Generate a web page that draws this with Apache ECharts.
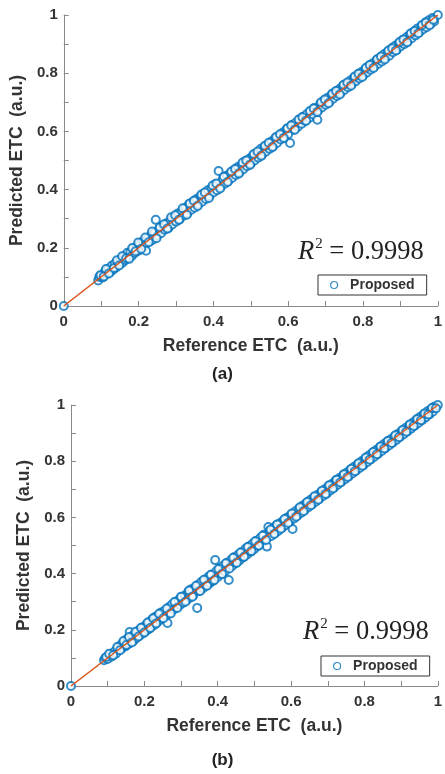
<!DOCTYPE html>
<html><head><meta charset="utf-8">
<script src="https://cdn.jsdelivr.net/npm/echarts@6/dist/echarts.min.js"></script>
<style>html,body{margin:0;padding:0;background:#fff}#c{width:445px;height:774px}</style>
</head><body><div id="c"></div>
<script>
const xTicks = ['0','0.2','0.4','0.6','0.8','1'];
const fitLine = [[0,0],[1,1]];
const refA = [0,0.092,0.095,0.1,0.104,0.11,0.115,0.12,0.125,0.128,0.132,0.136,0.14,0.145,0.15,0.152,0.158,0.162,0.165,0.17,0.172,0.178,0.182,0.186,0.19,0.195,0.2,0.204,0.208,0.212,0.216,0.22,0.225,0.23,0.234,0.238,0.243,0.246,0.25,0.255,0.26,0.265,0.27,0.275,0.28,0.285,0.29,0.295,0.3,0.305,0.31,0.315,0.32,0.326,0.33,0.335,0.34,0.345,0.35,0.355,0.36,0.366,0.37,0.375,0.38,0.385,0.39,0.395,0.4,0.405,0.41,0.414,0.42,0.425,0.43,0.436,0.44,0.445,0.45,0.456,0.46,0.466,0.47,0.476,0.48,0.486,0.49,0.496,0.5,0.506,0.51,0.516,0.52,0.527,0.53,0.536,0.54,0.546,0.55,0.556,0.56,0.566,0.57,0.577,0.58,0.586,0.59,0.596,0.6,0.605,0.61,0.616,0.62,0.626,0.63,0.636,0.64,0.646,0.65,0.656,0.66,0.667,0.67,0.678,0.68,0.686,0.69,0.696,0.7,0.706,0.71,0.717,0.72,0.726,0.73,0.737,0.74,0.746,0.75,0.756,0.76,0.767,0.77,0.776,0.78,0.787,0.79,0.796,0.8,0.806,0.81,0.817,0.82,0.826,0.83,0.837,0.84,0.846,0.85,0.857,0.86,0.866,0.87,0.877,0.88,0.886,0.89,0.896,0.9,0.906,0.91,0.917,0.92,0.926,0.93,0.937,0.94,0.946,0.95,0.956,0.96,0.967,0.97,0.976,0.98,0.986,0.99,1];
const predA = [0,0.088,0.1,0.105,0.098,0.118,0.11,0.128,0.118,0.138,0.125,0.145,0.132,0.152,0.143,0.16,0.15,0.172,0.158,0.183,0.165,0.185,0.172,0.196,0.182,0.205,0.19,0.214,0.2,0.222,0.206,0.19,0.232,0.222,0.245,0.228,0.252,0.296,0.242,0.266,0.25,0.275,0.262,0.284,0.268,0.294,0.28,0.305,0.29,0.318,0.298,0.325,0.31,0.338,0.318,0.35,0.33,0.356,0.338,0.368,0.35,0.378,0.358,0.386,0.368,0.398,0.378,0.405,0.39,0.418,0.398,0.464,0.41,0.436,0.42,0.448,0.43,0.456,0.44,0.468,0.45,0.478,0.46,0.486,0.47,0.498,0.48,0.506,0.49,0.518,0.5,0.526,0.51,0.54,0.52,0.546,0.53,0.556,0.54,0.566,0.55,0.578,0.56,0.586,0.572,0.596,0.58,0.608,0.59,0.56,0.622,0.606,0.63,0.616,0.64,0.626,0.65,0.636,0.66,0.646,0.668,0.658,0.68,0.64,0.672,0.696,0.682,0.706,0.692,0.716,0.7,0.728,0.712,0.736,0.722,0.746,0.732,0.756,0.742,0.764,0.752,0.776,0.762,0.784,0.772,0.796,0.782,0.804,0.792,0.814,0.802,0.826,0.812,0.834,0.822,0.846,0.832,0.854,0.84,0.866,0.852,0.874,0.86,0.886,0.872,0.894,0.88,0.904,0.892,0.914,0.9,0.924,0.91,0.934,0.92,0.944,0.93,0.954,0.94,0.962,0.95,0.974,0.958,0.982,0.968,0.99,0.978,1];
const refA2 = [0.098,0.107,0.113,0.121,0.134,0.142,0.148,0.156,0.167,0.175,0.183,0.192,0.199,0.207,0.218,0.227,0.236,0.248,0.257,0.268,0.277,0.287,0.298,0.308,0.318,0.329,0.337,0.348,0.358,0.368,0.377,0.388,0.398,0.408,0.418,0.428,0.438,0.448,0.458,0.468,0.478,0.488,0.498,0.508,0.518,0.528,0.538,0.548,0.558,0.568,0.578,0.588,0.598,0.608,0.618,0.628,0.638,0.648,0.658,0.668,0.678,0.688,0.698,0.708,0.718,0.728,0.738,0.748,0.758,0.768,0.778,0.788,0.798,0.808,0.818,0.828,0.838,0.848,0.858,0.868,0.878,0.888,0.898,0.908,0.918,0.928,0.938,0.948,0.958,0.968,0.978,0.988];
const predA2 = [0.106,0.101,0.127,0.112,0.131,0.157,0.139,0.171,0.164,0.162,0.199,0.188,0.218,0.196,0.235,0.219,0.256,0.233,0.271,0.281,0.266,0.305,0.312,0.296,0.336,0.314,0.352,0.362,0.344,0.383,0.39,0.371,0.414,0.421,0.404,0.444,0.426,0.462,0.471,0.455,0.493,0.5,0.485,0.522,0.531,0.516,0.551,0.561,0.546,0.581,0.59,0.577,0.611,0.62,0.606,0.641,0.649,0.637,0.67,0.679,0.667,0.7,0.71,0.697,0.729,0.739,0.727,0.76,0.768,0.757,0.789,0.798,0.787,0.819,0.828,0.818,0.848,0.857,0.847,0.878,0.886,0.878,0.907,0.916,0.906,0.937,0.945,0.937,0.966,0.974,0.965,0.984];
const refB = [0,0.09,0.094,0.1,0.105,0.11,0.118,0.123,0.128,0.132,0.137,0.14,0.145,0.149,0.153,0.157,0.16,0.163,0.167,0.17,0.174,0.178,0.182,0.186,0.19,0.194,0.198,0.202,0.206,0.21,0.214,0.218,0.222,0.226,0.23,0.234,0.238,0.242,0.246,0.25,0.255,0.259,0.263,0.267,0.27,0.275,0.28,0.284,0.288,0.293,0.297,0.302,0.306,0.31,0.315,0.32,0.324,0.328,0.333,0.338,0.344,0.347,0.35,0.355,0.36,0.365,0.37,0.374,0.378,0.383,0.387,0.393,0.396,0.4,0.405,0.41,0.415,0.42,0.425,0.43,0.436,0.44,0.445,0.45,0.455,0.46,0.465,0.47,0.476,0.48,0.485,0.49,0.495,0.5,0.505,0.51,0.515,0.52,0.526,0.53,0.534,0.538,0.542,0.546,0.552,0.556,0.56,0.565,0.57,0.575,0.58,0.585,0.59,0.596,0.6,0.604,0.608,0.612,0.617,0.622,0.627,0.632,0.637,0.642,0.647,0.652,0.657,0.662,0.667,0.672,0.677,0.682,0.687,0.692,0.697,0.702,0.707,0.712,0.717,0.722,0.727,0.732,0.737,0.742,0.747,0.752,0.757,0.762,0.767,0.772,0.777,0.782,0.787,0.792,0.797,0.802,0.807,0.812,0.817,0.822,0.827,0.832,0.837,0.842,0.847,0.852,0.857,0.862,0.867,0.872,0.877,0.882,0.887,0.892,0.897,0.902,0.907,0.912,0.917,0.922,0.927,0.932,0.937,0.942,0.947,0.952,0.957,0.962,0.967,0.972,0.977,0.982,0.986,0.99,1];
const predB = [0,0.092,0.1,0.096,0.112,0.104,0.122,0.116,0.136,0.128,0.148,0.135,0.158,0.142,0.168,0.15,0.192,0.158,0.178,0.16,0.186,0.17,0.195,0.178,0.204,0.186,0.21,0.194,0.22,0.2,0.228,0.21,0.238,0.216,0.246,0.226,0.25,0.234,0.262,0.24,0.268,0.25,0.224,0.28,0.26,0.29,0.272,0.298,0.28,0.306,0.288,0.316,0.296,0.322,0.305,0.336,0.314,0.344,0.322,0.35,0.278,0.36,0.338,0.37,0.348,0.376,0.358,0.388,0.366,0.396,0.374,0.448,0.408,0.388,0.418,0.398,0.428,0.408,0.438,0.377,0.448,0.428,0.458,0.438,0.466,0.448,0.476,0.458,0.488,0.468,0.496,0.478,0.506,0.488,0.516,0.498,0.526,0.508,0.538,0.518,0.496,0.566,0.552,0.534,0.562,0.544,0.572,0.552,0.58,0.562,0.59,0.572,0.6,0.584,0.61,0.559,0.596,0.622,0.606,0.632,0.616,0.642,0.626,0.652,0.636,0.662,0.646,0.672,0.656,0.68,0.666,0.69,0.676,0.7,0.684,0.712,0.696,0.72,0.706,0.732,0.716,0.74,0.726,0.75,0.736,0.76,0.746,0.77,0.756,0.78,0.766,0.79,0.776,0.8,0.786,0.81,0.796,0.82,0.806,0.83,0.816,0.84,0.826,0.85,0.836,0.86,0.846,0.87,0.856,0.878,0.866,0.888,0.876,0.898,0.886,0.908,0.896,0.918,0.906,0.928,0.916,0.938,0.926,0.948,0.936,0.958,0.946,0.968,0.956,0.978,0.966,0.986,0.976,0.994,1];
const refB2 = [0.096,0.104,0.115,0.126,0.134,0.143,0.151,0.158,0.166,0.176,0.184,0.191,0.2,0.209,0.216,0.224,0.232,0.24,0.252,0.261,0.272,0.282,0.29,0.3,0.312,0.322,0.331,0.341,0.352,0.362,0.371,0.381,0.391,0.402,0.412,0.422,0.432,0.442,0.452,0.462,0.472,0.482,0.492,0.502,0.512,0.522,0.532,0.544,0.554,0.562,0.572,0.582,0.592,0.602,0.614,0.624,0.634,0.644,0.654,0.664,0.674,0.684,0.694,0.704,0.714,0.724,0.734,0.744,0.754,0.764,0.774,0.784,0.794,0.804,0.814,0.824,0.834,0.844,0.854,0.864,0.874,0.884,0.894,0.904,0.914,0.924,0.934,0.944,0.954,0.964,0.974,0.984,0.995];
const predB2 = [0.103,0.115,0.109,0.139,0.127,0.16,0.146,0.174,0.155,0.193,0.176,0.207,0.19,0.226,0.206,0.241,0.222,0.257,0.241,0.276,0.258,0.299,0.278,0.318,0.3,0.34,0.318,0.357,0.338,0.378,0.357,0.396,0.377,0.416,0.399,0.437,0.418,0.456,0.439,0.475,0.46,0.495,0.48,0.515,0.5,0.535,0.52,0.557,0.541,0.575,0.56,0.594,0.58,0.614,0.602,0.636,0.622,0.655,0.643,0.675,0.663,0.695,0.683,0.714,0.703,0.734,0.724,0.754,0.744,0.773,0.764,0.793,0.784,0.813,0.805,0.833,0.825,0.852,0.845,0.872,0.865,0.892,0.885,0.911,0.905,0.931,0.925,0.95,0.946,0.97,0.966,0.989,0.988];
const r2Text = '0.9998';

const SANS = 'Liberation Sans, Arial, sans-serif';
const SERIF = 'Liberation Serif, Times New Roman, serif';
const BLUE = '#0072BD', ORANGE = '#D95319', AXIS = '#8a8a8a', TXT = '#333';

function pairs(xs, ys){ return xs.map((x,i)=>[x, ys[i]]); }
function labelFmt(v){ const k = Math.round(v*10); return k % 2 === 0 ? xTicks[k/2] : ''; }

function axis(type, gridIndex, name, nameGap){
  return {
    type:'value', gridIndex, min:0, max:1, interval:0.1,
    name, nameLocation:'middle', nameGap,
    nameTextStyle:{fontFamily:SANS, fontWeight:'bold', fontSize:17.5, color:TXT},
    axisLine:{show:true, onZero:false, lineStyle:{color:AXIS, width:1}},
    axisTick:{show:true, inside:true, length:5, lineStyle:{color:AXIS}},
    axisLabel:{formatter:labelFmt, fontFamily:SANS, fontWeight:'bold', fontSize:15, color:TXT, margin: type==='x'?8:6},
    splitLine:{show:false}
  };
}

function r2(left, top){
  return {
    type:'text', left, top, z:100,
    style:{
      text:'{r|R}{s|2}{n| = ' + r2Text + '}',
      rich:{
        r:{fontFamily:SERIF, fontStyle:'italic', fontSize:26.5, fill:'#222', lineHeight:30},
        s:{fontFamily:SERIF, fontSize:15, fill:'#222', verticalAlign:'top', lineHeight:30, padding:[0,0,12,1]},
        n:{fontFamily:SERIF, fontSize:26.5, fill:'#222', lineHeight:30}
      }
    }
  };
}

const legendBase = {
  data:['Proposed'], orient:'horizontal', icon:'circle', itemWidth:14, itemHeight:7, itemGap:0,
  padding:[3,12,3,12], borderColor:'#333', borderWidth:1, backgroundColor:'#fff',
  textStyle:{fontFamily:SANS, fontWeight:'bold', fontSize:14, color:TXT, padding:[0,0,0,4]},
  itemStyle:{color:'#fff', borderColor:BLUE, borderWidth:1.2}
};

const option = {
  animation:false,
  backgroundColor:'#fff',
  grid:[
    {left:59, top:15, width:382, height:291, containLabel:false},
    {left:71, top:405, width:369, height:281, containLabel:false}
  ],
  xAxis:[ axis('x',0,'Reference ETC  (a.u.)',31), axis('x',1,'Reference ETC  (a.u.)',31) ],
  yAxis:[ axis('y',0,'Predicted ETC  (a.u.)',34), axis('y',1,'Predicted ETC  (a.u.)',33) ],
  legend:[
    Object.assign({}, legendBase, {left:318, top:275}),
    Object.assign({}, legendBase, {left:321, top:656})
  ],
  graphic:[
    r2(298, 237), r2(303, 617),
    {type:'text', left:'center', top:366, style:{text:'(a)', fontFamily:SANS, fontWeight:'bold', fontSize:17, fill:'#222'}},
    {type:'text', left:'center', top:752, style:{text:'(b)', fontFamily:SANS, fontWeight:'bold', fontSize:17, fill:'#222'}}
  ],
  series:[
    {name:'Proposed', type:'scatter', xAxisIndex:0, yAxisIndex:0, data:pairs(refA,predA).concat(pairs(refA2,predA2)), symbol:'emptyCircle', symbolSize:8,
     itemStyle:{color:BLUE, borderColor:BLUE, borderWidth:1.1}, z:2},
    {name:'fit', type:'line', xAxisIndex:0, yAxisIndex:0, data:fitLine, symbol:'none', lineStyle:{color:ORANGE, width:1.5}, z:3},
    {name:'Proposed', type:'scatter', xAxisIndex:1, yAxisIndex:1, data:pairs(refB,predB).concat(pairs(refB2,predB2)), symbol:'emptyCircle', symbolSize:8,
     itemStyle:{color:BLUE, borderColor:BLUE, borderWidth:1.1}, z:2},
    {name:'fit', type:'line', xAxisIndex:1, yAxisIndex:1, data:fitLine, symbol:'none', lineStyle:{color:ORANGE, width:1.5}, z:3}
  ]
};
const chart = echarts.init(document.getElementById('c'), null, {renderer:'canvas'});
chart.setOption(option);
</script></body></html>
